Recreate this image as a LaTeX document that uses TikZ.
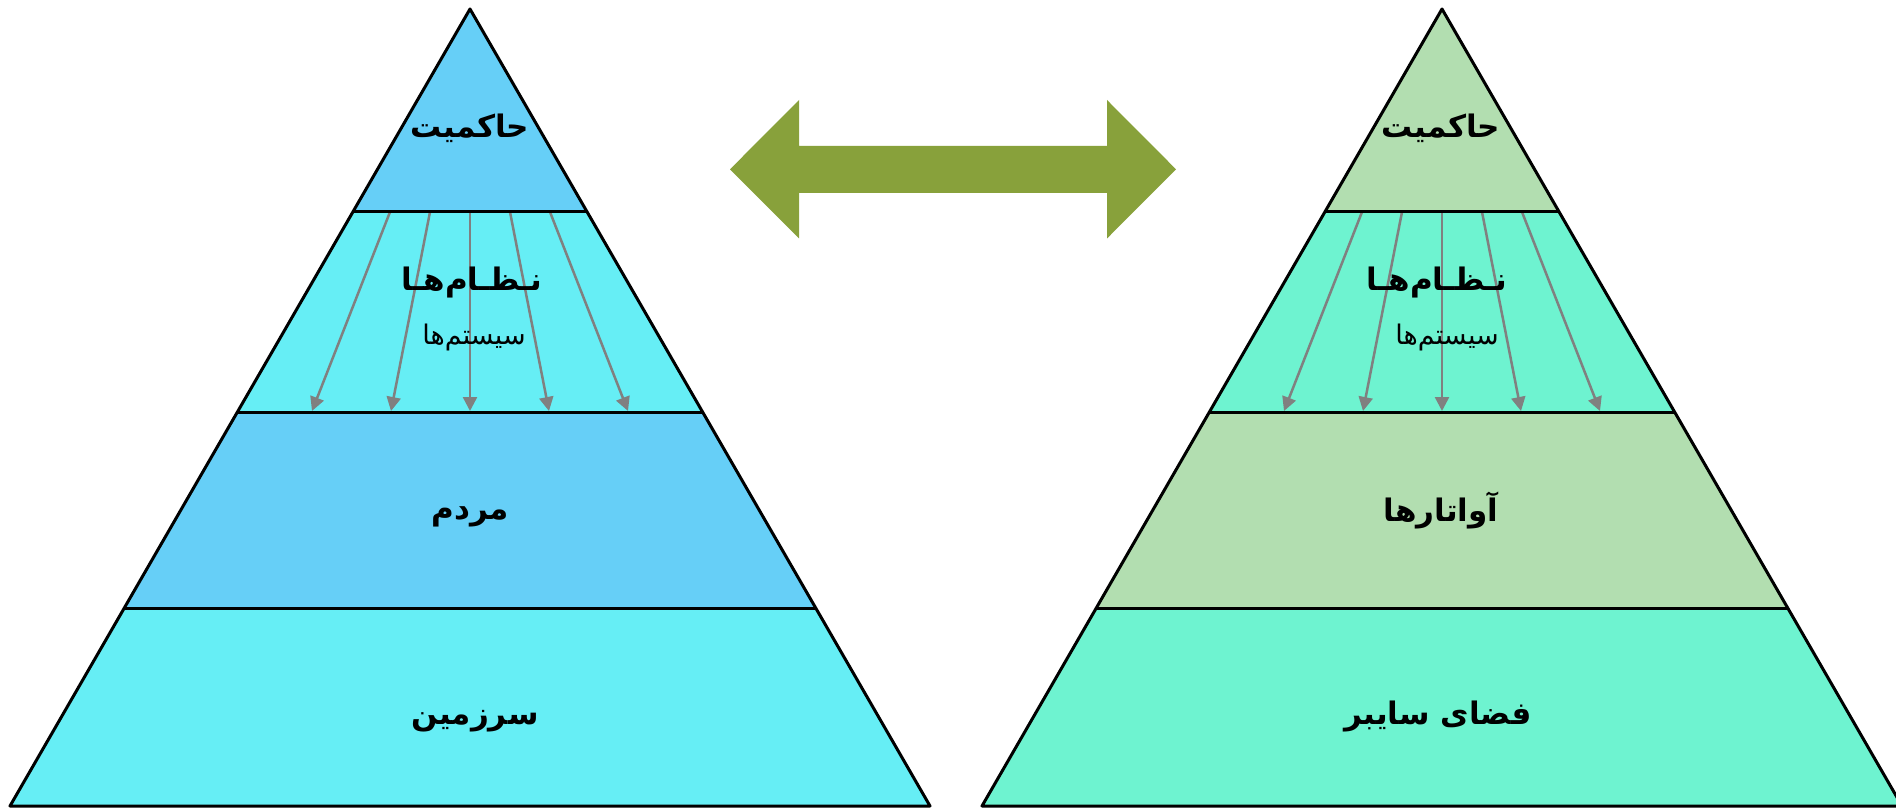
\documentclass[tikz,border=0pt]{standalone}
\usepackage{fontspec}
\usetikzlibrary{arrows.meta}
\newfontfamily\arabicfont[Script=Arabic]{DejaVu Sans}
\TeXXeTstate=1
\definecolor{lblue}{RGB}{102,207,247}
\definecolor{lcyan}{RGB}{102,238,245}
\definecolor{rgreen}{RGB}{178,222,176}
\definecolor{raqua}{RGB}{110,243,208}
\definecolor{olive}{RGB}{136,161,59}
\definecolor{flowgray}{RGB}{128,128,128}
\tikzset{
  layerline/.style={draw=black, line width=3pt, line join=round},
  flow/.style={draw=flowgray, line width=2.5pt, -{Triangle[length=14pt,width=14pt]}},
  lbl/.style={font=\arabicfont\bfseries\fontsize{31}{36}\selectfont, text=black, inner sep=0pt},
  sublbl/.style={font=\arabicfont\fontsize{27}{32}\selectfont, text=black, inner sep=0pt},
}
\newcommand\mypyramid[6]{%
  \fill[#2] (#1,9) -- (#1+117.2,212) -- (#1-117.2,212) -- cycle;
  \fill[#3] (#1-117.2,212) -- (#1+117.2,212) -- (#1+232.6,412) -- (#1-232.6,412) -- cycle;
  \fill[#2] (#1-232.6,412) -- (#1+232.6,412) -- (#1+345.7,608) -- (#1-345.7,608) -- cycle;
  \fill[#3] (#1-345.7,608) -- (#1+345.7,608) -- (#1+460,806) -- (#1-460,806) -- cycle;
  \coordinate (#4s1) at (#1-80,212); \coordinate (#4e1) at (#1-158,411);
  \coordinate (#4s2) at (#1-40,212); \coordinate (#4e2) at (#1-79,411);
  \coordinate (#4s3) at (#1,212);    \coordinate (#4e3) at (#1,411);
  \coordinate (#4s4) at (#1+40,212); \coordinate (#4e4) at (#1+79,411);
  \coordinate (#4s5) at (#1+80,212); \coordinate (#4e5) at (#1+158,411);
  \foreach \k in {1,...,5}{\draw[flow] (#4s\k) -- (#4e\k);}
  \draw[layerline] (#1,9) -- (#1+460,806) -- (#1-460,806) -- cycle;
  \draw[layerline] (#1-117.2,212) -- (#1+117.2,212);
  \draw[layerline] (#1-232.6,412) -- (#1+232.6,412);
  \draw[layerline] (#1-345.7,608) -- (#1+345.7,608);
}
\begin{document}
\begin{tikzpicture}[x=1pt,y=-1pt]
\useasboundingbox (0,0) rectangle (1896,810);
\fill[white] (0,0) rectangle (1896,810);
\mypyramid{470}{lblue}{lcyan}{L}{}{}
\mypyramid{1442}{rgreen}{raqua}{R}{}{}
% double arrow
\fill[olive] (730,169.3) -- (799,100) -- (799,146) -- (1107,146) -- (1107,100)
  -- (1176,169.3) -- (1107,238.5) -- (1107,193) -- (799,193) -- (799,238.5) -- cycle;
% labels left
\node[lbl] (Lt) at (470,128) {\beginR حاکمیت\endR};
\node[lbl] (Ls) at (472,283) {\beginR نـظـام‌هـا\endR};
\node[sublbl] (Lss) at (474,337) {\beginR سیستم‌ها\endR};
\node[lbl] (Lp) at (470,517) {\beginR مردم\endR};
\node[lbl] (Lg) at (475,721) {\beginR سرزمین\endR};
% labels right
\node[lbl] (Rt) at (1441,128) {\beginR حاکمیت\endR};
\node[lbl] (Rs) at (1437,283) {\beginR نـظـام‌هـا\endR};
\node[sublbl] (Rss) at (1447,337) {\beginR سیستم‌ها\endR};
\node[lbl] (Rp) at (1441,510) {\beginR آواتارها\endR};
\node[lbl] (Rg) at (1438,717) {\beginR فضای سایبر\endR};
\end{tikzpicture}
\end{document}
